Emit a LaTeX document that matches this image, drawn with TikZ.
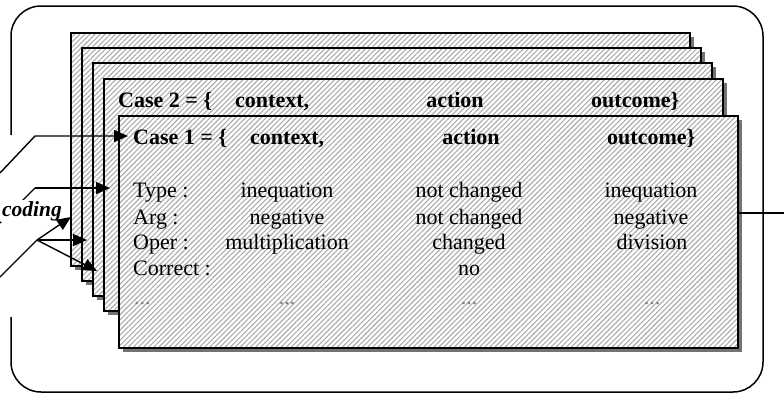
\documentclass[tikz,border=0pt]{standalone}
\usepackage{fontspec}
\setmainfont{Liberation Serif}
\usetikzlibrary{patterns.meta,arrows.meta,shadows}
\begin{document}
\begin{tikzpicture}[x=1pt,y=-1pt,
  sheet/.style={rectangle, anchor=north west, inner sep=0pt, minimum width=619pt, minimum height=233pt,
    draw=black, line width=1.6pt, fill=white,
    general shadow={fill=black!55, shadow xshift=4pt, shadow yshift=-4pt},
    postaction={pattern={Lines[angle=45,distance=3.6pt,line width=1.1pt]}, pattern color=gray!65, draw=black, line width=1.6pt}},
  hd/.style={font=\bfseries\fontsize{22}{26}\selectfont, inner sep=0pt},
  tx/.style={font=\fontsize{22}{26}\selectfont, inner sep=0pt},
  dt/.style={font=\fontsize{22}{26}\selectfont, text=gray, inner sep=0pt},
  arr/.style={line width=1.4pt, -{Triangle[length=14pt,width=12pt]}},
  ln/.style={line width=1.4pt}]
\useasboundingbox (0,0) rectangle (784,394);
% outer frame
\draw[line width=1.5pt, rounded corners=30pt] (11,135) -- (11,6) -- (763,6) -- (763,392) -- (11,392) -- (11,317);
% sheets
\node[sheet] (A) at (70,32) {};
\node[sheet] (B) at (81,47) {};
\node[sheet] (C) at (92,62) {};
\node[sheet, minimum height=232pt] (D) at (103,78) {};
\node[sheet, minimum height=232pt] (E) at (118,115) {};
% case 2 header
\node[hd, anchor=mid west] (c2) at (118,105) {Case 2 = \{};
\node[hd, anchor=mid west] (c2ctx) at (235,105) {context,};
\node[hd, anchor=mid] (c2act) at (455,105) {action};
\node[hd, anchor=mid west] (c2out) at (591,105) {outcome\}};
% case 1 header
\node[hd, anchor=mid west] (c1) at (133,142) {Case 1 = \{};
\node[hd, anchor=mid west] (c1ctx) at (250,142) {context,};
\node[hd, anchor=mid] (c1act) at (471,142) {action};
\node[hd, anchor=mid west] (c1out) at (607,142) {outcome\}};
% rows
\node[tx, anchor=mid west] (l1) at (133,195) {Type :};
\node[tx, anchor=mid west] (l2) at (133,222) {Arg :};
\node[tx, anchor=mid west] (l3) at (133,247) {Oper :};
\node[tx, anchor=mid west] (l4) at (133,273) {Correct :};
\node[dt, anchor=mid west] (l5) at (134,302) {...};
\node[tx, anchor=mid] (a1) at (287,195) {inequation};
\node[tx, anchor=mid] (a2) at (287,222) {negative};
\node[tx, anchor=mid] (a3) at (287,247) {multiplication};
\node[dt, anchor=mid] (a5) at (287,302) {...};
\node[tx, anchor=mid] (b1) at (469,195) {not changed};
\node[tx, anchor=mid] (b2) at (469,222) {not changed};
\node[tx, anchor=mid] (b3) at (469,247) {changed};
\node[tx, anchor=mid] (b4) at (469,273) {no};
\node[dt, anchor=mid] (b5) at (469,302) {...};
\node[tx, anchor=mid] (d1) at (651,195) {inequation};
\node[tx, anchor=mid] (d2) at (651,222) {negative};
\node[tx, anchor=mid] (d3) at (652,247) {division};
\node[dt, anchor=mid] (d5) at (652,302) {...};
% right connector
\coordinate (rout) at (784,213);
\draw[ln] (E.east |- rout) -- (rout);
% left arrows
\coordinate (s1) at (0,173);  \coordinate (k1) at (35,136);  \coordinate (t1) at (128,136);
\coordinate (s2) at (0,223);  \coordinate (k2) at (35,188);  \coordinate (t2) at (110,188);
\coordinate (s3) at (0,277);  \coordinate (k3) at (37,240);
\coordinate (t3a) at (71,217); \coordinate (t3b) at (87,240); \coordinate (t3c) at (97,271);
\draw[ln] (s2) -- (k2);
\node[font=\bfseries\itshape\fontsize{21.5}{25}\selectfont, anchor=mid west, fill=white, inner sep=1pt] (enc) at (1,214) {coding};
\draw[arr] (s1) -- (k1) -- (t1);
\draw[arr] (k2) -- (t2);
\draw[ln] (s3) -- (k3);
\draw[arr] (k3) -- (t3a);
\draw[arr] (k3) -- (t3b);
\draw[arr] (k3) -- (t3c);
\end{tikzpicture}
\end{document}
